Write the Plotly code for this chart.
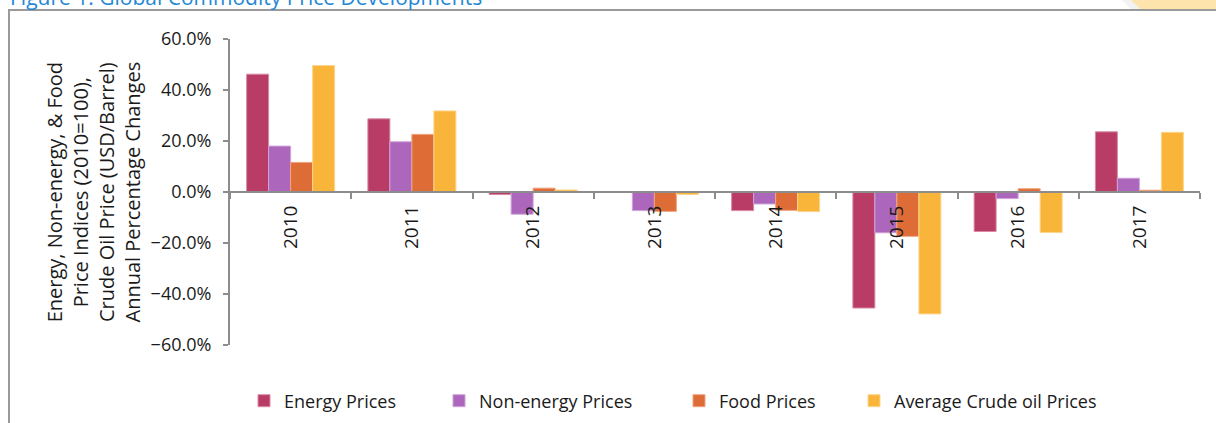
import plotly.graph_objects as go

years = ["2010", "2011", "2012", "2013", "2014", "2015", "2016", "2017"]
energy = [46.2, 28.7, -1.0, -0.2, -7.3, -45.5, -15.5, 23.6]
non_energy = [18.0, 19.7, -8.7, -7.3, -4.7, -16.0, -2.6, 5.4]
food = [11.6, 22.6, 1.5, -7.6, -7.2, -17.4, 1.3, 0.7]
crude = [49.6, 31.8, 0.8, -1.0, -7.7, -47.8, -15.9, 23.4]

series_names = ["Energy Prices", "Non-energy Prices", "Food Prices", "Average Crude oil Prices"]
series_values = [energy, non_energy, food, crude]
colors = ["#B83C66", "#AC66BC", "#DE6C36", "#F9B53A"]
edge_colors = ["#D98AA5", "#CFA3D9", "#F0A580", "#FCD58E"]

W, H = 1216, 423
ML, MR, MT, MB = 230, 16, 39, 78
PW, PH = W - ML - MR, H - MT - MB

def px_x(p):
    return (p - ML) / PW

def px_y(p):
    return (H - MB - p) / PH

FONT = "Open Sans"
legend_left_px = [244, 439, 679, 854]
legend_names = ["legend", "legend2", "legend3", "legend4"]

fig = go.Figure()
for name, vals, c, ec, lg in zip(series_names, series_values, colors, edge_colors, legend_names):
    fig.add_trace(go.Bar(
        x=years, y=vals, name=name,
        marker=dict(color=c, line=dict(color=ec, width=1)),
        legend=lg,
    ))

layout_legends = {}
for lg, lp in zip(legend_names, legend_left_px):
    layout_legends[lg] = dict(
        x=px_x(lp), xanchor="left", y=px_y(401), yanchor="middle",
        orientation="h", font=dict(family=FONT, size=18, color="#1a1a1a"),
        bgcolor="rgba(0,0,0,0)", borderwidth=0, itemclick=False,
    )

fig.update_layout(
    width=W, height=H,
    margin=dict(l=ML, r=MR, t=MT, b=MB, autoexpand=False),
    paper_bgcolor="white", plot_bgcolor="white",
    barmode="group", bargap=0.274, bargroupgap=0,
    font=dict(family=FONT, color="#1a1a1a"),
    showlegend=True,
    **layout_legends,
)

fig.update_xaxes(
    type="category", anchor="free", position=0.5,
    showline=True, linecolor="#8c8c8c", linewidth=2,
    ticks="outside", ticklen=6, tickcolor="#8c8c8c", tickwidth=2,
    tickson="boundaries", tickangle=-90, ticklabelstandoff=5,
    tickfont=dict(family=FONT, size=19, color="#1a1a1a"),
    showgrid=False, zeroline=False, automargin=False,
)
fig.update_yaxes(
    range=[-60, 60], dtick=20, tick0=0, tickformat=".1f", ticksuffix="%",
    showline=True, linecolor="#8c8c8c", linewidth=2,
    ticks="outside", ticklen=5, tickcolor="#8c8c8c", tickwidth=2,
    ticklabelstandoff=8,
    tickfont=dict(family=FONT, size=18, color="#1a1a1a"),
    showgrid=False, zeroline=False, automargin=False,
)

# y-axis title
fig.add_annotation(
    text="Energy, Non-energy, & Food<br>Price Indices (2010=100),<br>Crude Oil Price (USD/Barrel)<br>Annual Percentage Changes",
    xref="paper", yref="paper", x=px_x(92.5), y=0.5, xanchor="center", yanchor="middle",
    textangle=-90, showarrow=False, font=dict(family=FONT, size=20, color="#1a1a1a"),
)

# figure caption (cut off at the top)
fig.add_annotation(
    text="Figure 1: Global Commodity Price Developments",
    xref="paper", yref="paper", x=px_x(8), y=px_y(13), xanchor="left", yanchor="bottom",
    showarrow=False, font=dict(family=FONT, size=21, color="#1E88D4"),
)

# decorative corner and frame
fig.add_shape(type="path", xref="paper", yref="paper",
              path=f"M {px_x(1120)} {px_y(-2)} L {px_x(1131)} {px_y(9)} L {px_x(1140)} {px_y(9)} L {px_x(1129)} {px_y(-2)} Z",
              fillcolor="#F2F2F2", line=dict(width=0), layer="below")
fig.add_shape(type="path", xref="paper", yref="paper",
              path=f"M {px_x(1129)} {px_y(-2)} L {px_x(1140)} {px_y(9)} L {px_x(1220)} {px_y(9)} L {px_x(1220)} {px_y(-2)} Z",
              fillcolor="#FDE3AC", line=dict(width=0), layer="below")
fig.add_shape(type="path", xref="paper", yref="paper",
              path=f"M {px_x(9)} {px_y(430)} L {px_x(9)} {px_y(10)} L {px_x(1222)} {px_y(10)}",
              line=dict(color="#9a9a9a", width=2), layer="below")

fig.write_html("out.html")
